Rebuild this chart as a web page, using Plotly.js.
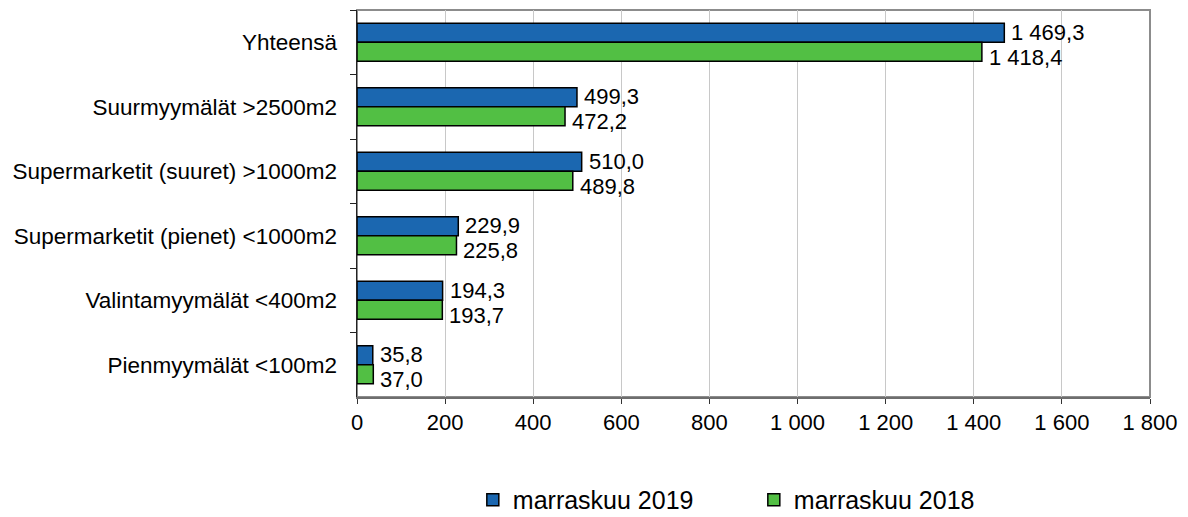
<!DOCTYPE html>
<html>
<head>
<meta charset="utf-8">
<script src="https://cdn.plot.ly/plotly-3.0.1.min.js"></script>
<style>
  body { margin: 0; background: #fff; }
  #chart { width: 1188px; height: 517px; }
</style>
</head>
<body>
<div id="chart"></div>
<script>
// Kategoriat ylhäältä alas
var categories = [
  "Yhteensä",
  "Suurmyymälät >2500m2",
  "Supermarketit (suuret) >1000m2",
  "Supermarketit (pienet) <1000m2",
  "Valintamyymälät <400m2",
  "Pienmyymälät <100m2"
];
var values2019 = [1469.3, 499.3, 510.0, 229.9, 194.3, 35.8];
var values2018 = [1418.4, 472.2, 489.8, 225.8, 193.7, 37.0];
var seriesNames = ["marraskuu 2019", "marraskuu 2018"];
var xTicks = [0, 200, 400, 600, 800, 1000, 1200, 1400, 1600, 1800];

var font = "Liberation Sans, Arial, sans-serif";

// suomalainen muotoilu: "1 469,3"
function fiNum(v) {
  var parts = v.toFixed(1).split(".");
  var whole = parts[0].replace(/\B(?=(\d{3})+(?!\d))/g, " ");
  return whole + "," + parts[1];
}

function barTrace(name, values, color) {
  return {
    type: "bar",
    orientation: "h",
    name: name,
    y: categories,
    x: values,
    marker: { color: color, line: { color: "#000", width: 1.5 } },
    hoverinfo: "x+name"
  };
}

var data = [
  barTrace(seriesNames[0], values2019, "#1b67b0"),
  barTrace(seriesNames[1], values2018, "#52bf44")
];

// arvojen tekstit palkkien perään
var labels = [];
categories.forEach(function (cat, i) {
  labels.push({
    x: values2019[i], y: cat, xref: "x", yref: "y",
    text: fiNum(values2019[i]), showarrow: false,
    xanchor: "left", yanchor: "middle", xshift: 5, yshift: 10,
    font: { family: font, size: 22, color: "#000" }
  });
  labels.push({
    x: values2018[i], y: cat, xref: "x", yref: "y",
    text: fiNum(values2018[i]), showarrow: false,
    xanchor: "left", yanchor: "middle", xshift: 5, yshift: -15,
    font: { family: font, size: 22, color: "#000" }
  });
});

var layout = {
  width: 1188,
  height: 517,
  margin: { l: 357, r: 38, t: 10, b: 120 },
  paper_bgcolor: "#fff",
  plot_bgcolor: "#fff",
  separators: ", ",
  barmode: "group",
  bargap: 0.41,
  bargroupgap: 0,
  font: { family: font, size: 22, color: "#000" },
  xaxis: {
    range: [0, 1800],
    tickvals: xTicks,
    tickformat: ",d",
    showgrid: true,
    gridcolor: "#c8c8c8",
    gridwidth: 1,
    zeroline: false,
    showline: true,
    linecolor: "#6e6e6e",
    linewidth: 1.5,
    ticks: "outside",
    ticklen: 5,
    tickcolor: "#333",
    tickfont: { family: font, size: 22, color: "#000" },
    fixedrange: true
  },
  yaxis: {
    autorange: "reversed",
    type: "category",
    showgrid: false,
    zeroline: false,
    showline: true,
    linecolor: "#222",
    linewidth: 1.5,
    ticks: "outside",
    tickson: "boundaries",
    ticklen: 6,
    tickcolor: "#222",
    ticklabelstandoff: 14,
    tickfont: { family: font, size: 22.5, color: "#000" },
    fixedrange: true
  },
  annotations: labels,
  shapes: [{
    type: "rect", xref: "paper", yref: "paper",
    x0: 0, x1: 1, y0: 0, y1: 1,
    line: { color: "#8c8c8c", width: 2 },
    layer: "below"
  }],
  legend: {
    orientation: "h",
    xref: "container", yref: "container",
    x: 0.398, xanchor: "left",
    y: 0.033, yanchor: "middle",
    entrywidth: 236,
    font: { family: font, size: 25, color: "#000" },
    itemwidth: 30
  },
  showlegend: true
};

Plotly.newPlot("chart", data, layout, { displayModeBar: false, staticPlot: true });
</script>
</body>
</html>
